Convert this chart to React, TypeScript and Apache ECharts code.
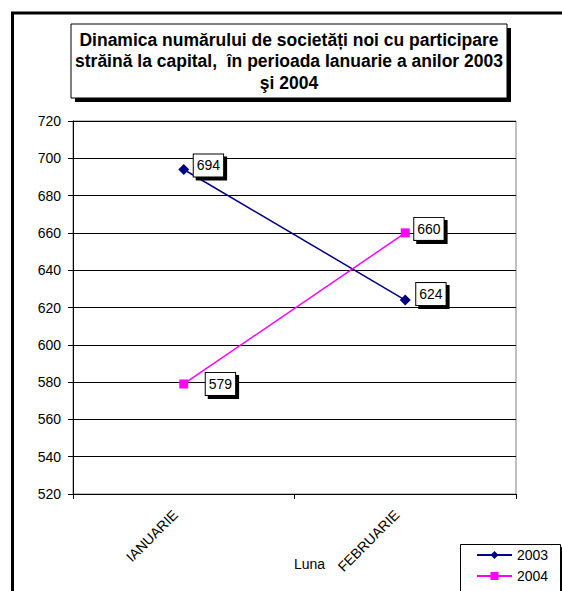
import React, { useEffect, useRef } from "react";
import * as echarts from "echarts";

const categories = ["IANUARIE", "FEBRUARIE"];
const seriesNames = ["2003", "2004"];
const values2003 = [694, 624];
const values2004 = [579, 660];
const yTicks = { min: 520, max: 720, interval: 20 };
const titleLines = [
  "Dinamica numărului de societăți noi cu participare",
  "străină la capital,  în perioada Ianuarie a anilor 2003",
  "şi 2004",
];
const axisName = "Luna";

const FONT = "Arial, 'Liberation Sans', sans-serif";

const labelBase = {
  show: true,
  position: "right",
  distance: 5,
  color: "#000",
  fontSize: 14,
  lineHeight: 16,
  fontFamily: FONT,
  backgroundColor: "#fff",
  borderColor: "#000",
  borderWidth: 1,
  padding: [3, 3, 3, 3],
  shadowColor: "#000",
  shadowBlur: 0,
  shadowOffsetX: 3,
  shadowOffsetY: 3,
};

const offsets2003 = [
  [-0.5, -4],
  [0.5, -6],
];
const offsets2004 = [
  [12.5, 0],
  [-0.5, -4],
];

function withLabels(vals: number[], offs: number[][]) {
  return vals.map((v, i) => ({ value: v, label: { offset: offs[i] } }));
}

export default function App() {
  const ref = useRef<HTMLDivElement>(null);
  useEffect(() => {
    if (!ref.current) return;
    const chart = echarts.init(ref.current, null, { renderer: "svg" });
    chart.setOption({
      animation: false,
      backgroundColor: "#fff",
      grid: {
        left: 73,
        right: 46,
        top: 121,
        bottom: 97,
        show: true,
        borderColor: "#808080",
        borderWidth: 1,
        backgroundColor: "transparent",
        outerBoundsMode: "none",
        containLabel: false,
      },
      graphic: [
        {
          type: "rect",
          shape: { x: 12.5, y: 13, width: 700, height: 700 },
          style: { fill: "none", stroke: "#000", lineWidth: 3 },
          silent: true,
        },
        {
          type: "rect",
          shape: { x: 75, y: 28, width: 436, height: 74 },
          style: { fill: "#000" },
          silent: true,
        },
        {
          type: "rect",
          shape: { x: 71, y: 24, width: 436, height: 74 },
          style: { fill: "#fff", stroke: "#000", lineWidth: 1 },
          silent: true,
        },
        {
          type: "text",
          x: 289,
          y: 61,
          style: {
            text: titleLines.join("\n"),
            fill: "#000",
            font: `bold 17.5px ${FONT}`,
            align: "center",
            verticalAlign: "middle",
            lineHeight: 21.5,
          },
          silent: true,
        },
        {
          type: "rect",
          shape: { x: 463, y: 547, width: 101, height: 80 },
          style: { fill: "#000" },
          silent: true,
          z: -1,
        },
        {
          type: "rect",
          shape: { x: 460.5, y: 544.5, width: 100, height: 80 },
          style: { fill: "#fff", stroke: "#000", lineWidth: 1 },
          silent: true,
          z: -1,
        },
      ],
      legend: {
        orient: "vertical",
        left: 460,
        top: 544,
        data: seriesNames,
        itemWidth: 35,
        itemHeight: 10,
        itemGap: 7,
        padding: [4, 5, 0, 16],
        textStyle: { fontSize: 14, fontFamily: FONT, color: "#000" },
      },
      xAxis: {
        type: "category",
        data: categories,
        boundaryGap: true,
        name: axisName,
        nameLocation: "middle",
        nameGap: 63,
        nameMoveOverlap: false,
        nameTextStyle: {
          fontSize: 14,
          fontFamily: FONT,
          color: "#000",
          padding: [0, 0, 0, 30],
        },
        axisLine: { show: true, lineStyle: { color: "#000", width: 1 } },
        axisTick: { show: true, length: 5, lineStyle: { color: "#000" } },
        axisLabel: {
          rotate: 45,
          fontSize: 14,
          fontFamily: FONT,
          color: "#000",
          margin: 10,
          padding: [0, 12, 0, 0],
        },
        splitLine: { show: false },
      },
      yAxis: {
        type: "value",
        min: yTicks.min,
        max: yTicks.max,
        interval: yTicks.interval,
        axisLine: { show: true, lineStyle: { color: "#000", width: 1 } },
        axisTick: { show: true, length: 5, lineStyle: { color: "#000" } },
        axisLabel: {
          fontSize: 14,
          fontFamily: FONT,
          color: "#000",
          margin: 12,
        },
        splitLine: { show: true, lineStyle: { color: "#000", width: 1 } },
      },
      series: [
        {
          name: seriesNames[0],
          type: "line",
          data: withLabels(values2003, offsets2003),
          symbol: "diamond",
          symbolSize: 11,
          itemStyle: { color: "#000080" },
          lineStyle: { color: "#000080", width: 1.5 },
          label: labelBase,
        },
        {
          name: seriesNames[1],
          type: "line",
          data: withLabels(values2004, offsets2004),
          symbol: "rect",
          symbolSize: 9,
          itemStyle: { color: "#FF00FF" },
          lineStyle: { color: "#FF00FF", width: 1.5 },
          label: labelBase,
        },
      ],
    });
    return () => chart.dispose();
  }, []);
  return (
    <div
      ref={ref}
      style={{ position: "absolute", left: 0, top: 0, width: 562, height: 591 }}
    />
  );
}
